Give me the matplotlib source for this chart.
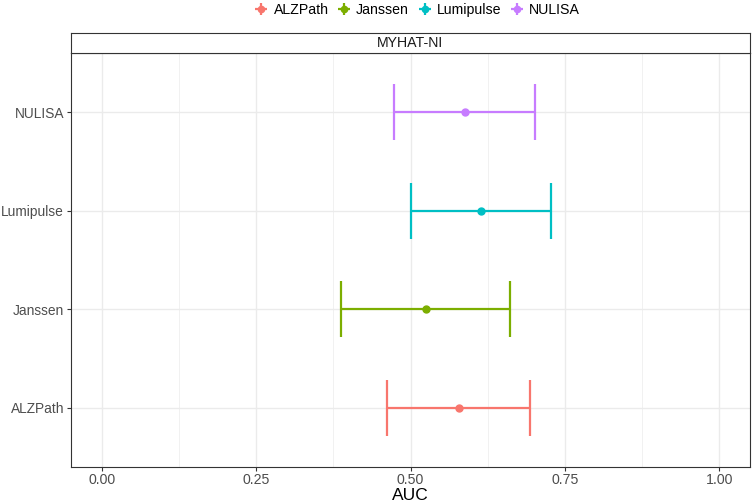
import matplotlib
matplotlib.use("Agg")
import matplotlib.pyplot as plt
from matplotlib.lines import Line2D

plt.rcParams['font.family'] = ['Liberation Sans', 'DejaVu Sans']

# data
assays = ["ALZPath", "Janssen", "Lumipulse", "NULISA"]
auc = [0.578, 0.525, 0.614, 0.588]
ci_low = [0.462, 0.388, 0.500, 0.474]
ci_high = [0.694, 0.662, 0.727, 0.701]
colors = ["#F8766D", "#7CAE00", "#00BFC4", "#C77CFF"]
x_ticks = [0.0, 0.25, 0.5, 0.75, 1.0]
x_tick_labels = ["0.00", "0.25", "0.50", "0.75", "1.00"]
facet = "MYHAT-NI"

fig = plt.figure(figsize=(7.54, 5.04), dpi=100)
ax = fig.add_axes([71/754, 37/504, 679/754, 414/504])
strip = fig.add_axes([71/754, 451/504, 679/754, 20/504])

grid_col = "#EBEBEB"
ax.set_xlim(-0.05, 1.05)
ax.set_ylim(0.4, 4.6)
ax.set_xticks(x_ticks)
ax.set_xticklabels(x_tick_labels)
ax.set_xticks([0.125, 0.375, 0.625, 0.875], minor=True)
ax.set_yticks(range(1, len(assays) + 1))
ax.set_yticklabels(assays)
ax.grid(True, which='major', color=grid_col, lw=1.0)
ax.grid(True, which='minor', axis='x', color=grid_col, lw=0.5)
ax.set_axisbelow(True)
ax.tick_params(axis='x', which='major', length=3, color="#333333",
               labelsize=10.2, labelcolor="#4D4D4D", pad=1)
ax.tick_params(axis='y', which='major', length=3, color="#333333",
               labelsize=9.9, labelcolor="#4D4D4D", pad=2)
ax.tick_params(axis='both', which='minor', length=0)
for s in ax.spines.values():
    s.set_color("#333333")
    s.set_linewidth(0.8)

for i, name in enumerate(assays):
    y = i + 1
    lo, hi = ci_low[i], ci_high[i]
    ax.errorbar(auc[i], y, xerr=[[auc[i] - lo], [hi - auc[i]]], fmt='o',
                color=colors[i], ms=5, elinewidth=1.6, capsize=20, capthick=1.6,
                zorder=3)

ax.set_xlabel("AUC", fontsize=12.5)
ax.xaxis.set_label_coords(0.5, (467 - 495) / 414)
ax.xaxis.label.set_va('center')

strip.set_xticks([])
strip.set_yticks([])
for s in strip.spines.values():
    s.set_color("#333333")
    s.set_linewidth(0.8)
strip.text(0.5, 0.5, facet, ha='center', va='center', fontsize=10.2,
           color="#1A1A1A", transform=strip.transAxes)

handles = [(Line2D([], [], color=c, marker='+', ms=8, mew=1.6, lw=0),
            Line2D([], [], color=c, marker='o', ms=4.5, lw=0)) for c in colors]
fig.legend(handles, assays, loc='center', bbox_to_anchor=(417/754, 1 - 10/504),
           ncol=4, frameon=False, fontsize=10.2, handlelength=1.0,
           handletextpad=0.35, columnspacing=0.6, borderaxespad=0, borderpad=0)

fig.savefig("out.png", dpi=100)
